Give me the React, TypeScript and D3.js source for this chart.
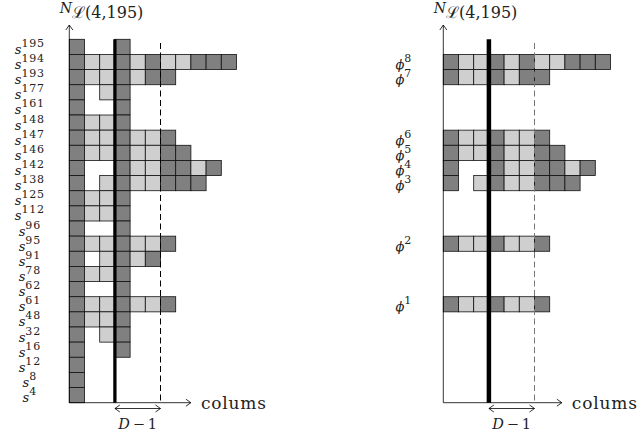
import React, { useEffect, useRef } from 'react'
import * as d3 from 'd3'

// superscripts of the s labels, top row first
const rowLabels = ['195', '194', '193', '177', '161', '148', '147', '146', '142', '138', '125', '112',
    '96', '95', '91', '78', '62', '61', '48', '32', '16', '12', '8', '4']

// cells of each row, left to right: 2 = dark, 1 = light, 0 = empty
const rowCells = [
    [2, 0, 0, 2],
    [2, 1, 1, 2, 1, 2, 1, 1, 2, 2, 2],
    [2, 1, 1, 2, 1, 2, 2],
    [2, 0, 1, 2],
    [2, 0, 0, 2],
    [2, 1, 1, 2],
    [2, 1, 1, 2, 1, 1, 2],
    [2, 1, 1, 2, 1, 1, 2, 2],
    [2, 0, 0, 2, 1, 1, 2, 2, 1, 2],
    [2, 0, 1, 2, 1, 1, 2, 2, 2],
    [2, 1, 1, 2],
    [2, 1, 1, 2],
    [2, 0, 0, 2],
    [2, 1, 1, 2, 1, 1, 2],
    [2, 0, 1, 2, 1, 2],
    [2, 1, 1, 2],
    [2, 0, 0, 2],
    [2, 1, 1, 2, 1, 1, 2],
    [2, 1, 1, 2],
    [2, 0, 1, 2],
    [2, 0, 0, 2],
    [2],
    [2],
    [2],
]

// right panel: phi labels, the s row each one sits on, and its cells
const phiLabels = ['8', '7', '6', '5', '4', '3', '2', '1']
const phiRows = ['194', '193', '147', '146', '142', '138', '95', '61']
const phiCells = [
    [2, 1, 1, 2, 1, 2, 1, 1, 2, 2, 2],
    [2, 1, 1, 2, 1, 2, 2],
    [2, 1, 1, 2, 1, 1, 2],
    [2, 1, 1, 2, 1, 1, 2, 2],
    [2, 0, 0, 2, 1, 1, 2, 2, 1, 2],
    [2, 0, 1, 2, 1, 1, 2, 2, 2],
    [2, 1, 1, 2, 1, 1, 2],
    [2, 1, 1, 2, 1, 1, 2],
]

const D = 4
const fills = ['none', '#cfcfcf', '#808080']
const font = "'DejaVu Serif', serif"

const cell = 15.2
const top = 39.3
const bottom = 402.7

function drawPanel(svg, ox, labels, rowKeys, cells, sym, thickW, dashColor, axisLen) {
    const x = d3.scaleLinear().domain([0, 1]).range([ox, ox + cell])
    const y = d3.scaleBand().domain(rowLabels).range([top, bottom])
    const g = svg.append('g')

    // cells
    rowKeys.forEach((key, r) => {
        g.selectAll(null)
            .data(cells[r].map((v, i) => ({ v, i })).filter(d => d.v > 0))
            .join('rect')
            .attr('x', d => x(d.i))
            .attr('y', y(key))
            .attr('width', cell)
            .attr('height', y.bandwidth())
            .attr('fill', d => fills[d.v])
            .attr('stroke', '#111')
            .attr('stroke-width', 0.8)
    })

    // row labels
    rowKeys.forEach((key, r) => {
        const t = g.append('text')
            .attr('x', ox - 39.5)
            .attr('y', y(key) + y.bandwidth() / 2 + 7)
            .attr('text-anchor', 'middle')
            .attr('font-family', font)
            .attr('fill', '#222')
        t.append('tspan').attr('font-style', 'italic').attr('font-size', 13).text(sym)
        t.append('tspan').attr('dy', -7).attr('font-size', 11).attr('letter-spacing', 0.8).text(labels[r])
    })

    // thick line at column D-1, dashed at 2(D-1)
    g.append('line')
        .attr('x1', x(D - 1)).attr('x2', x(D - 1))
        .attr('y1', top).attr('y2', bottom)
        .attr('stroke', '#000').attr('stroke-width', thickW)
    g.append('line')
        .attr('x1', x(2 * (D - 1))).attr('x2', x(2 * (D - 1)))
        .attr('y1', 43).attr('y2', bottom)
        .attr('stroke', dashColor).attr('stroke-width', 1)
        .attr('stroke-dasharray', '6,3.5')

    // axes
    const tip = x(axisLen)
    g.append('path')
        .attr('d', `M${ox},25 L${ox},${bottom} L${tip},${bottom}`)
        .attr('fill', 'none').attr('stroke', '#000').attr('stroke-width', 0.8)
    const heads = [
        `M${ox - 3.5},30 L${ox},25 L${ox + 3.5},30`,
        `M${tip - 5},${bottom - 3.5} L${tip},${bottom} L${tip - 5},${bottom + 3.5}`,
    ]
    // D-1 double arrow
    const a = x(D - 1), b = x(2 * (D - 1)), ay = 408.5
    heads.push(`M${a},${ay} L${b},${ay}`)
    heads.push(`M${a + 5},${ay - 3.5} L${a},${ay} L${a + 5},${ay + 3.5}`)
    heads.push(`M${b - 5},${ay - 3.5} L${b},${ay} L${b - 5},${ay + 3.5}`)
    g.selectAll(null).data(heads).join('path')
        .attr('d', d => d)
        .attr('fill', 'none').attr('stroke', '#000').attr('stroke-width', 0.8)

    g.append('text')
        .attr('x', tip + 10).attr('y', 409)
        .attr('font-family', font).attr('font-size', 17)
        .attr('textLength', 65)
        .attr('fill', '#222')
        .text('colums')

    const dl = g.append('text')
        .attr('x', (a + b) / 2).attr('y', 429)
        .attr('text-anchor', 'middle')
        .attr('font-family', font).attr('font-size', 14.5)
        .attr('fill', '#222')
    dl.append('tspan').attr('font-style', 'italic').text('D')
    dl.append('tspan').text('\u2009\u2212\u20091')

    // title N_{L(4,195)}
    const tt = g.append('text')
        .attr('x', ox - 9.5).attr('y', 13)
        .attr('font-family', font)
        .attr('fill', '#222')
    tt.append('tspan').attr('font-style', 'italic').attr('font-size', 14).text('N')
    tt.append('tspan').attr('dy', 5).attr('font-size', 16).text('\u2112(4,195)')
}

export default function App() {
    const svgRef = useRef(null)

    useEffect(() => {
        const svg = d3.select(svgRef.current)
        svg.selectAll('*').remove()
        drawPanel(svg, 69.3, rowLabels, rowLabels, rowCells, 's', 3.3, '#000', 8)
        drawPanel(svg, 443.3, phiLabels, phiRows, phiCells, '\u03D5', 4.5, '#777', 7.8)
    }, [])

    return (
        <svg ref={svgRef} width={639} height={436}
            style={{ position: 'absolute', left: 0, top: 0, background: 'white' }} />
    )
}
